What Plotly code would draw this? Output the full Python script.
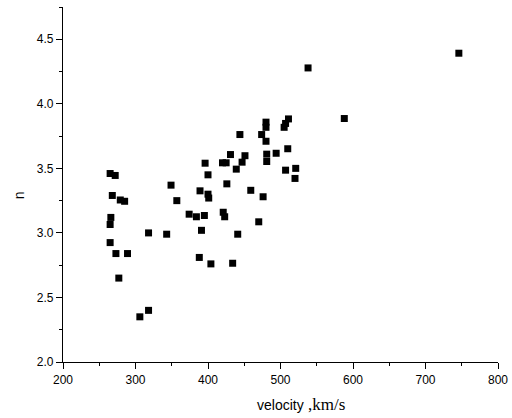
import plotly.graph_objects as go

velocity = [265, 272, 268, 279, 285, 266, 265, 265, 273, 289, 277, 306, 318, 318, 343,
            349, 357, 374, 384, 395, 391, 388, 404, 389, 400, 401, 396, 400, 421, 423,
            434, 441, 420, 425, 426, 431, 439, 444, 447, 451, 459, 470, 476, 474, 480,
            480, 480, 481, 481, 494, 505, 507, 511, 510, 507, 521, 520, 538, 588, 746]
n_vals = [3.46, 3.445, 3.29, 3.255, 3.245, 3.12, 3.065, 2.925, 2.84, 2.84, 2.65, 2.35, 2.40, 3.00, 2.99,
          3.37, 3.25, 3.145, 3.125, 3.135, 3.02, 2.81, 2.76, 3.326, 3.30, 3.27, 3.54, 3.45, 3.16, 3.125,
          2.765, 2.99, 3.543, 3.543, 3.38, 3.607, 3.494, 3.762, 3.548, 3.598, 3.33, 3.086, 3.28, 3.762, 3.858,
          3.818, 3.71, 3.61, 3.553, 3.617, 3.818, 3.848, 3.883, 3.652, 3.486, 3.5, 3.422, 4.278, 3.886, 4.392]

x_ticks = [200, 300, 400, 500, 600, 700, 800]
y_ticks = [2.0, 2.5, 3.0, 3.5, 4.0, 4.5]

fig = go.Figure()
fig.add_trace(go.Scatter(
    x=velocity, y=n_vals, mode="markers",
    marker=dict(symbol="square", size=7, color="black", line=dict(width=0)),
    showlegend=False,
))

font_sans = "Liberation Sans, Arial, sans-serif"
fig.update_layout(
    width=512, height=418,
    margin=dict(l=63, r=14, t=7, b=56),
    paper_bgcolor="white", plot_bgcolor="white",
    font=dict(family=font_sans, size=12, color="black"),
    annotations=[
        dict(text="velocity<span style='font-family:Liberation Serif, Times New Roman, serif; font-size:17px'> ,km/s</span>",
             xref="paper", yref="paper", x=0.547, y=-0.121, xanchor="center", yanchor="middle",
             showarrow=False, font=dict(size=14, family=font_sans)),
        dict(text="n", xref="paper", yref="paper", x=-0.101, y=0.47, xanchor="center", yanchor="middle",
             textangle=-90, showarrow=False, font=dict(size=14, family=font_sans)),
    ],
)
fig.update_xaxes(
    range=[200, 800], tickvals=x_ticks, ticktext=[str(v) for v in x_ticks],
    showgrid=False, zeroline=False, showline=True, linecolor="black", linewidth=1.3,
    ticks="outside", ticklen=6, tickwidth=1.3, tickcolor="black",
    minor=dict(dtick=50, ticks="outside", ticklen=3, tickwidth=1, tickcolor="black", showgrid=False),
    tickfont=dict(size=12, family=font_sans),
    automargin=False,
)
fig.update_yaxes(
    range=[2.0, 4.75], tickvals=y_ticks, ticktext=[f"{v:.1f}" for v in y_ticks],
    showgrid=False, zeroline=False, showline=True, linecolor="black", linewidth=1.3,
    ticks="outside", ticklen=6, tickwidth=1.3, tickcolor="black",
    minor=dict(dtick=0.25, ticks="outside", ticklen=3, tickwidth=1, tickcolor="black", showgrid=False),
    tickfont=dict(size=12, family=font_sans),
    automargin=False,
)

fig.write_html("out.html")
